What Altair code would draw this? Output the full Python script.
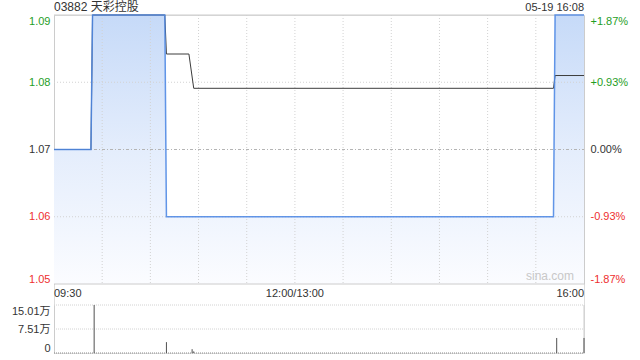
import altair as alt
import pandas as pd

# minutes since 09:30 on a 330-minute trading axis (lunch break removed)
price_t = [0, 23, 24, 69, 70, 311, 312, 330]
price_v = [1.07, 1.07, 1.09, 1.09, 1.06, 1.06, 1.09, 1.09]
avg_t = [0, 23, 24, 69, 70, 84, 87, 311, 312, 330]
avg_v = [1.07, 1.07, 1.09, 1.09, 1.0842, 1.0842, 1.0791, 1.0791, 1.081, 1.081]
vol_t = [25, 70, 86, 87, 313, 330]
vol_v = [150100, 34000, 12000, 5000, 47000, 47000]

price_ticks = [1.05, 1.06, 1.07, 1.08, 1.09]
pct_ticks = [-1.87, -0.93, 0.0, 0.93, 1.87]
vol_ticks = [0, 75050, 150100]
vol_labels = ["0", "7.51万", "15.01万"]
time_ticks = [0, 150, 330]
time_labels = ["09:30", "12:00/13:00", "16:00"]
grid_t = [30, 60, 90, 120, 150, 180, 210, 240, 270, 300]
grid_p = [1.06, 1.08]
prev_close = 1.07
title_text = "03882 天彩控股"
stamp_text = "05-19 16:08"
watermark = "sina.com"

FONT = "'Liberation Sans', 'Noto Sans CJK SC', sans-serif"
GREEN = "#1f9e1f"
RED = "#ee2f2f"
TXT = "#333333"
FRAME = "#cccccc"
GRID = "#d2d2d2"

W, H_MAIN, V_TOP, V_BOT = 530, 269, 290, 338


def ps():
    return alt.Scale(domain=[1.05, 1.09], range=[H_MAIN, 0], nice=False, zero=False)


def vs():
    return alt.Scale(domain=[0, 150100], range=[V_BOT, V_TOP], nice=False, zero=False)


def xs():
    return alt.Scale(domain=[0, 330], nice=False, zero=False)


pcts = alt.Scale(domain=[-1.87, 1.87], range=[H_MAIN, 0], nice=False, zero=False)

price_df = pd.DataFrame({"t": price_t, "p": price_v})
avg_df = pd.DataFrame({"t": avg_t, "p": avg_v})
vol_df = pd.DataFrame({"t": vol_t, "v": vol_v})


def expr_map(vals, labels):
    e = "''"
    for v, l in zip(vals, labels):
        e = f"(abs(datum.value - {v}) < 0.000001 ? '{l}' : {e})"
    return e


def XT():
    return alt.X("t:Q", scale=xs(), axis=None)


def XD(v):
    return alt.XDatum(datum=v, scale=xs(), axis=None)


def PY(field="p"):
    return alt.Y(f"{field}:Q", scale=ps(), axis=None)


def PD(v):
    return alt.YDatum(datum=v, scale=ps(), axis=None)


def VD(v):
    return alt.YDatum(datum=v, scale=vs(), axis=None)


price_axis = alt.Axis(values=price_ticks, format=".2f", ticks=False, grid=False,
                      domainColor=FRAME, labelPadding=4, labelFlush=True, title=None,
                      labelFontSize=11, labelFont=FONT,
                      labelColor={"expr": f"datum.value > {prev_close} + 0.000001 ? '{GREEN}' : (datum.value < {prev_close} - 0.000001 ? '{RED}' : '{TXT}')"})

gradient = alt.Gradient(gradient="linear",
                        stops=[alt.GradientStop(color="#c6daf8", offset=0),
                               alt.GradientStop(color="#e4edfc", offset=0.5),
                               alt.GradientStop(color="#fbfcff", offset=1)],
                        x1=0, x2=0, y1=0, y2=1)

area = alt.Chart(price_df).mark_area(color=gradient, line=False).encode(
    x=XT(),
    y=alt.Y("p:Q", scale=ps(), axis=price_axis),
    y2=alt.Y2Datum(datum=1.05),
)

vgrid = alt.Chart(pd.DataFrame({"t": grid_t})).mark_rule(
    color=GRID, strokeDash=[1, 2], strokeWidth=1).encode(
    x=XT(), y=PD(1.09), y2=alt.Y2Datum(datum=1.05))

hgrid = alt.Chart(pd.DataFrame({"p": grid_p})).mark_rule(
    color=GRID, strokeDash=[1, 2], strokeWidth=1).encode(
    y=PY(), x=XD(0), x2=alt.X2Datum(datum=330))

hmid = alt.Chart(pd.DataFrame({"p": [prev_close]})).mark_rule(
    color="#b4b4b4", strokeDash=[3, 2, 1, 2], strokeWidth=1).encode(
    y=PY(), x=XD(0), x2=alt.X2Datum(datum=330))

border = alt.Chart(pd.DataFrame({"p": [1.09, 1.05]})).mark_rule(
    color=FRAME, strokeWidth=1).encode(
    y=PY(), x=XD(0), x2=alt.X2Datum(datum=330))

avg_line = alt.Chart(avg_df).mark_line(color="#3c3c3c", strokeWidth=1).encode(
    x=XT(), y=PY())

price_line = alt.Chart(price_df).mark_line(color="#5089e4", strokeWidth=1.5, opacity=0.9).encode(
    x=XT(), y=PY())

title_mark = alt.Chart(pd.DataFrame({"t": [0], "p": [1.09], "s": [title_text]})).mark_text(
    align="left", baseline="alphabetic", dy=-4, fontSize=12, font=FONT, color=TXT).encode(
    x=XT(), y=PY(), text="s:N")

stamp_mark = alt.Chart(pd.DataFrame({"t": [330], "p": [1.09], "s": [stamp_text]})).mark_text(
    align="right", baseline="alphabetic", dy=-4, fontSize=11, font=FONT, color=TXT).encode(
    x=XT(), y=PY(), text="s:N")

wm_mark = alt.Chart(pd.DataFrame({"t": [330], "p": [1.05], "s": [watermark]})).mark_text(
    align="right", baseline="alphabetic", dx=-10, dy=-4, fontSize=12, font=FONT,
    color="#c8c8c8").encode(
    x=XT(), y=PY(), text="s:N")


def time_label(i, align):
    df = pd.DataFrame({"t": [time_ticks[i]], "p": [1.05], "s": [time_labels[i]]})
    return alt.Chart(df).mark_text(
        align=align, baseline="middle", dy=10, fontSize=11, font=FONT, color=TXT).encode(
        x=XT(), y=PY(), text="s:N")


tl0 = time_label(0, "left")
tl1 = time_label(1, "center")
tl2 = time_label(2, "right")

pct_layer = alt.Chart(pd.DataFrame({"t": [0] * len(pct_ticks), "pct": pct_ticks})).mark_point(
    opacity=0).encode(
    x=XT(),
    y=alt.Y("pct:Q", scale=pcts, axis=alt.Axis(
        orient="right", values=pct_ticks, ticks=False, grid=False, domainColor=FRAME,
        labelPadding=6, labelFlush=True, title=None, labelFontSize=11, labelFont=FONT,
        labelExpr="(datum.value < 0 ? '-' : (datum.value > 0 ? '+' : '')) + format(abs(datum.value), '.2f') + '%'",
        labelColor={"expr": f"datum.value > 0 ? '{GREEN}' : (datum.value < 0 ? '{RED}' : '{TXT}')"})))

vol_bars = alt.Chart(vol_df).mark_rule(color="#505050", strokeWidth=1).encode(
    x=XT(),
    y=alt.Y("v:Q", scale=vs(), axis=alt.Axis(
        orient="left", values=vol_ticks, labelExpr=expr_map(vol_ticks, vol_labels),
        ticks=False, grid=False, domainColor=FRAME, labelPadding=4, labelFlush=True,
        title=None, labelFontSize=11, labelFont=FONT, labelColor=TXT)),
    y2=alt.Y2Datum(datum=0),
)

vol_grid = alt.Chart(pd.DataFrame({"v": vol_ticks[1:]})).mark_rule(
    color=GRID, strokeDash=[1, 1], strokeWidth=1).encode(
    y=alt.Y("v:Q", scale=vs(), axis=None), x=XD(0), x2=alt.X2Datum(datum=330))

vol_base = alt.Chart(pd.DataFrame({"v": [0]})).mark_rule(
    color="#8a8a8a", strokeDash=[1, 1], strokeWidth=1).encode(
    y=alt.Y("v:Q", scale=vs(), axis=None), x=XD(0), x2=alt.X2Datum(datum=330))

vol_right = alt.Chart(pd.DataFrame({"t": [330]})).mark_rule(
    color=FRAME, strokeWidth=1).encode(
    x=XT(), y=VD(0), y2=alt.Y2Datum(datum=150100))

chart = alt.layer(area, vgrid, hgrid, hmid, border, avg_line, price_line,
                  title_mark, stamp_mark, wm_mark, tl0, tl1, tl2, pct_layer,
                  vol_grid, vol_base, vol_right, vol_bars).resolve_scale(y="independent").properties(
    width=W, height=V_BOT,
    padding={"left": 54, "top": 15, "right": 56, "bottom": 7},
    autosize=alt.AutoSizeParams(type="none"),
).configure_view(stroke=None).configure(background="white")

chart.save("out.html", embed_options={"renderer": "svg", "actions": False})
